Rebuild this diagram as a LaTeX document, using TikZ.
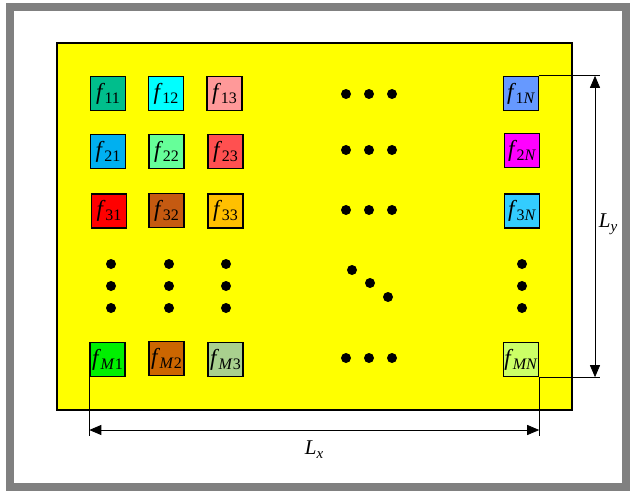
\documentclass[tikz,border=0pt]{standalone}
\usepackage{fontspec}
\setmainfont{Liberation Serif}
\usetikzlibrary{arrows.meta}
\definecolor{c11}{RGB}{0,190,140}
\definecolor{c12}{RGB}{0,255,255}
\definecolor{c13}{RGB}{255,153,153}
\definecolor{c21}{RGB}{0,176,240}
\definecolor{c22}{RGB}{102,255,153}
\definecolor{c23}{RGB}{255,80,80}
\definecolor{c31}{RGB}{255,0,0}
\definecolor{c32}{RGB}{197,90,17}
\definecolor{c33}{RGB}{255,192,0}
\definecolor{cM1}{RGB}{0,240,0}
\definecolor{cM2}{RGB}{204,102,0}
\definecolor{cM3}{RGB}{169,208,142}
\definecolor{c1N}{RGB}{102,153,255}
\definecolor{c2N}{RGB}{255,0,255}
\definecolor{c3N}{RGB}{51,204,255}
\definecolor{cMN}{RGB}{204,255,102}
\definecolor{frame}{RGB}{128,128,128}
\definecolor{ylw}{RGB}{255,255,0}
\newcommand{\fl}[1]{\textit{f}\kern-0.5pt\raisebox{-4pt}{\fontsize{16}{16}\selectfont #1}}
\tikzset{
  cell/.style={draw=black, line width=1.4pt, minimum width=35pt, minimum height=34pt, inner sep=0pt, font=\fontsize{23}{24}\selectfont},
  dot/.style={circle, fill=black, minimum size=10pt, inner sep=0pt},
  dim/.style={line width=0.8pt, {Triangle[length=12pt,width=10pt]}-{Triangle[length=12pt,width=10pt]}},
  ext/.style={line width=0.6pt}
}
\begin{document}
\begin{tikzpicture}[x=1pt,y=-1pt]
\useasboundingbox (0,0) rectangle (636,494);
\fill[white] (0,0) rectangle (636,494);
\draw[frame, line width=8pt] (10,7) rectangle (626,487);
\draw[fill=ylw, line width=2pt] (57,43) rectangle (572,410);
% cells
\node[cell, fill=c11] (f11) at (108,93.5) {\fl{11}};
\node[cell, fill=c12] (f12) at (166,93.5) {\fl{12}};
\node[cell, fill=c13] (f13) at (224.5,93.5) {\fl{13}};
\node[cell, fill=c21] (f21) at (108,151.5) {\fl{21}};
\node[cell, fill=c22] (f22) at (166.5,151.5) {\fl{22}};
\node[cell, fill=c23] (f23) at (225.5,151.5) {\fl{23}};
\node[cell, fill=c31] (f31) at (109,211) {\fl{31}};
\node[cell, fill=c32] (f32) at (166.5,210.5) {\fl{32}};
\node[cell, fill=c33] (f33) at (225.5,211) {\fl{33}};
\node[cell, fill=cM1] (fM1) at (107.5,359.5) {\fl{\textit{M}1}};
\node[cell, fill=cM2] (fM2) at (166.5,358.5) {\fl{\textit{M}2}};
\node[cell, fill=cM3] (fM3) at (225.5,359.5) {\fl{\textit{M}3}};
\node[cell, fill=c1N] (f1N) at (521,93.5) {\fl{1\textit{N}}};
\node[cell, fill=c2N] (f2N) at (522,150.5) {\fl{2\textit{N}}};
\node[cell, fill=c3N] (f3N) at (522,211) {\fl{3\textit{N}}};
\node[cell, fill=cMN] (fMN) at (521,359.5) {\fl{\textit{MN}}};
% row dots
\foreach \y/\r in {94/a,150/b,210/c,358/d}{
  \node[dot] (h\r1) at (346,\y) {};
  \node[dot] (h\r2) at (369,\y) {};
  \node[dot] (h\r3) at (392,\y) {};
}
% column dots
\foreach \x/\c in {111/a,169/b,226/c,522/d}{
  \node[dot] (v\c1) at (\x,264) {};
  \node[dot] (v\c2) at (\x,286) {};
  \node[dot] (v\c3) at (\x,308) {};
}
% diagonal dots
\node[dot] (d1) at (352,270) {};
\node[dot] (d2) at (370,283) {};
\node[dot] (d3) at (388,297) {};
% dimension coordinates
\coordinate (yt) at (f1N.north east -| 600,0);
\coordinate (yb) at (fMN.south east -| 600,0);
\coordinate (ya) at (595,0);
\coordinate (xl) at (fM1.south west |- 0,436);
\coordinate (xr) at (fMN.south east |- 0,436);
\draw[ext] (f1N.north east) -- (yt);
\draw[ext] (fMN.south east) -- (yb);
\draw[ext] (fM1.south west) -- (xl);
\draw[ext] (fMN.south east) -- (xr);
\coordinate (yat) at (ya |- f1N.north east);
\coordinate (yab) at (ya |- fMN.south east);
\coordinate (xal) at (fM1.south west |- 0,430);
\coordinate (xar) at (fMN.south east |- 0,430);
\draw[dim] (yat) -- (yab);
\draw[dim] (xal) -- (xar);
\node[font=\fontsize{21}{22}\selectfont] (Ly) at (608,224) {\textit{L}\raisebox{-4pt}{\fontsize{15}{15}\selectfont\textit{y}}};
\node[font=\fontsize{21}{22}\selectfont] (Lx) at (314,450) {\textit{L}\raisebox{-4pt}{\fontsize{15}{15}\selectfont\textit{x}}};
\end{tikzpicture}
\end{document}
